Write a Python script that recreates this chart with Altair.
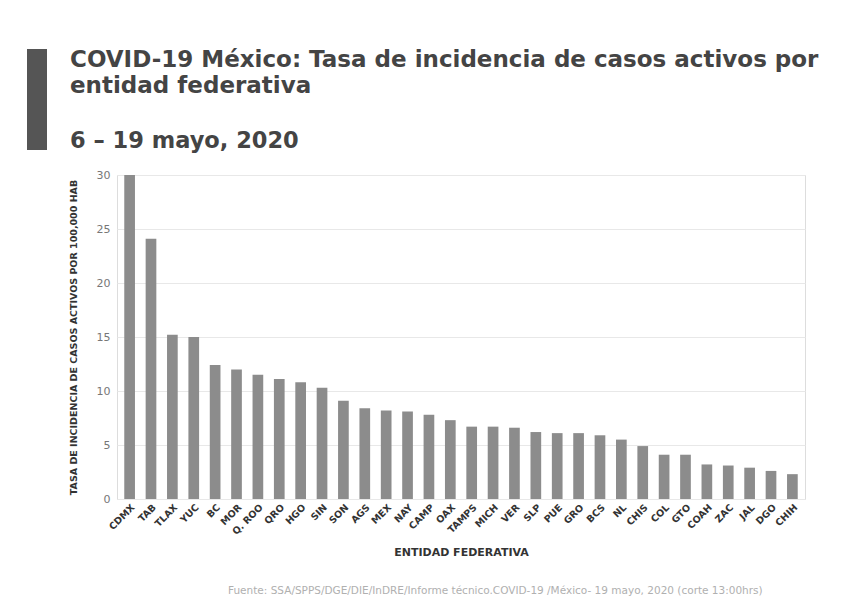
import altair as alt
import pandas as pd

# Data
estados = ["CDMX", "TAB", "TLAX", "YUC", "BC", "MOR", "Q. ROO", "QRO", "HGO", "SIN",
           "SON", "AGS", "MEX", "NAY", "CAMP", "OAX", "TAMPS", "MICH", "VER", "SLP",
           "PUE", "GRO", "BCS", "NL", "CHIS", "COL", "GTO", "COAH", "ZAC", "JAL",
           "DGO", "CHIH"]
tasas = [30.0, 24.1, 15.2, 15.0, 12.4, 12.0, 11.5, 11.1, 10.8, 10.3,
         9.1, 8.4, 8.2, 8.1, 7.8, 7.3, 6.7, 6.7, 6.6, 6.2,
         6.1, 6.1, 5.9, 5.5, 4.9, 4.1, 4.1, 3.2, 3.1, 2.9,
         2.6, 2.3]
y_ticks = [0, 5, 10, 15, 20, 25, 30]

titulo = ["COVID-19 México: Tasa de incidencia de casos activos por", "entidad federativa"]
subtitulo = "6 – 19 mayo, 2020"
fuente = "Fuente: SSA/SPPS/DGE/DIE/InDRE/Informe técnico.COVID-19 /México- 19 mayo, 2020 (corte 13:00hrs)"

df = pd.DataFrame({"estado": estados, "tasa": tasas})
one = pd.DataFrame({"k": [0]})

FONT = "DejaVu Sans"

bars = alt.Chart(df).mark_bar(color="#8c8c8c").encode(
    x=alt.X("estado:N", sort=estados,
            scale=alt.Scale(paddingInner=0.5, paddingOuter=0.34),
            axis=alt.Axis(title="ENTIDAD FEDERATIVA", labelAngle=-45,
                          labelFont=FONT, labelFontWeight="bold", labelFontSize=9.5,
                          labelColor="#333", labelPadding=3, ticks=False,
                          domain=False, titleFont=FONT, titleFontSize=11,
                          titleFontWeight="bold", titleColor="#333",
                          titlePadding=11)),
    y=alt.Y("tasa:Q", scale=alt.Scale(domain=[0, 30], nice=False),
            axis=alt.Axis(title="TASA DE INCIDENCIA DE CASOS ACTIVOS  POR 100,000 HAB",
                          values=y_ticks, labelFont=FONT, labelFontSize=11,
                          labelColor="#777", labelPadding=7, ticks=False,
                          domain=False, grid=True, gridColor="#e8e8e8",
                          titleFont=FONT, titleFontSize=9.5, titleFontWeight="bold",
                          titleColor="#333", titlePadding=18)),
)

marker = alt.Chart(one).mark_rect(color="#555555").encode(
    x=alt.value(-90), x2=alt.value(-70), y=alt.value(-126), y2=alt.value(-25)
)

source = alt.Chart(one).mark_text(
    text=fuente, align="left", baseline="middle", font=FONT, fontSize=10.5,
    color="#b0b0b0"
).encode(x=alt.value(111), y=alt.value(416))

chart = alt.layer(marker, bars, source).properties(
    width=688, height=324,
    autosize=alt.AutoSizeParams(type="none"),
    padding={"left": 109, "top": 167, "right": 28, "bottom": 98},
    title=alt.TitleParams(
        text=titulo, subtitle=subtitulo, anchor="start", frame="group", dx=-47,
        font=FONT, fontSize=23, fontWeight="bold", color="#444444", lineHeight=26,
        subtitleFont=FONT, subtitleFontSize=22.5, subtitleFontWeight="bold",
        subtitleColor="#444444", subtitlePadding=32, offset=-103),
).configure_view(stroke=None).configure(background="white")

chart.save("out.html", embed_options={"renderer": "svg", "actions": False})
